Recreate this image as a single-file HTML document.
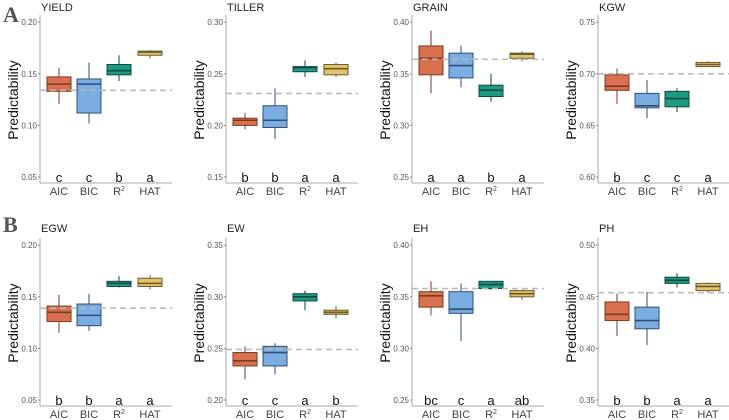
<!DOCTYPE html>
<html><head><meta charset="utf-8">
<style>
html,body{margin:0;padding:0;background:#fff;}
svg{display:block;font-family:"Liberation Sans",sans-serif;}
</style></head>
<body>
<svg id="c" width="729" height="420" viewBox="0 0 729 420"></svg>
<script>
const categories = ["AIC","BIC","R2","HAT"];
const traits = ["YIELD","TILLER","GRAIN","KGW","EGW","EW","EH","PH"];
const tickMins = [0.05,0.15,0.25,0.60,0.05,0.20,0.25,0.35];
const baselines = [0.134,0.231,0.364,0.700,0.139,0.249,0.358,0.454];
const letters = [["c","c","b","a"],["b","b","a","a"],["a","a","b","a"],["b","c","c","a"],
                 ["b","b","a","a"],["c","c","a","b"],["bc","c","a","ab"],["b","b","a","a"]];
// each box: [min, q1, median, q3, max]
const yieldBoxes  = [[0.121,0.133,0.140,0.147,0.156],[0.102,0.112,0.140,0.145,0.161],[0.143,0.149,0.153,0.159,0.168],[0.165,0.168,0.171,0.172,0.173]];
const tillerBoxes = [[0.196,0.200,0.205,0.207,0.212],[0.187,0.198,0.205,0.219,0.236],[0.247,0.252,0.256,0.257,0.263],[0.247,0.249,0.255,0.259,0.261]];
const grainBoxes  = [[0.331,0.349,0.365,0.377,0.392],[0.337,0.346,0.358,0.370,0.377],[0.323,0.328,0.334,0.339,0.350],[0.362,0.365,0.369,0.370,0.372]];
const kgwBoxes    = [[0.671,0.684,0.688,0.699,0.705],[0.657,0.667,0.669,0.681,0.694],[0.663,0.668,0.676,0.683,0.686],[0.707,0.707,0.709,0.711,0.712]];
const egwBoxes    = [[0.115,0.126,0.135,0.141,0.152],[0.117,0.122,0.132,0.143,0.153],[0.159,0.160,0.163,0.165,0.170],[0.157,0.160,0.163,0.168,0.171]];
const ewBoxes     = [[0.220,0.233,0.238,0.246,0.252],[0.225,0.233,0.246,0.252,0.255],[0.287,0.296,0.300,0.303,0.306],[0.279,0.283,0.285,0.287,0.291]];
const ehBoxes     = [[0.332,0.340,0.351,0.355,0.365],[0.307,0.334,0.338,0.355,0.363],[0.357,0.358,0.362,0.365,0.365],[0.347,0.350,0.353,0.356,0.357]];
const phBoxes     = [[0.412,0.427,0.433,0.445,0.453],[0.403,0.419,0.427,0.440,0.455],[0.459,0.463,0.466,0.469,0.473],[0.454,0.456,0.460,0.463,0.464]];
const allBoxes = [yieldBoxes,tillerBoxes,grainBoxes,kgwBoxes,egwBoxes,ewBoxes,ehBoxes,phBoxes];

const fills = ["#D9714E","#7AADE2","#1E9A84","#E3C46C"];
const strokes = ["#7a3a24","#2f4e72","#0d4a3f","#6b5a2a"];
const svg = document.getElementById('c');
const NS = "http://www.w3.org/2000/svg";
function mk(tag, attrs, parent){const e=document.createElementNS(NS,tag);for(const k in attrs)e.setAttribute(k,attrs[k]);(parent||svg).appendChild(e);return e;}

const axisX = [40,226,412,598];
const catOff = [19,49,79,110];
const rowBase = [177,400];
const rowTop = [15,238];
const pxPer = 51.6/0.05;

let L = mk('text',{x:3,y:22,'font-family':'Liberation Serif, serif','font-weight':'bold','font-size':22,fill:'#555'}); L.textContent='A';
 
L = mk('text',{x:3,y:232,'font-family':'Liberation Serif, serif','font-weight':'bold','font-size':22,fill:'#555'}); L.textContent='B';
 

traits.forEach((t,p)=>{
  const row = Math.floor(p/4), col = p%4;
  const ax = axisX[col], base = rowBase[row], tmin = tickMins[p];
  const yS = v => base - (v - tmin)*pxPer;
  const xS = i => ax + catOff[i];
  const g = mk('g',{});
  
  
  const title = mk('text',{x:ax+1,y:row?232:11,'font-size':11,fill:'#222'},g); title.textContent=t;
   
  mk('line',{x1:ax,y1:rowTop[row],x2:ax,y2:base+6,stroke:'#aaa','stroke-width':1},g);
  mk('line',{x1:ax,y1:base+6,x2:ax+132,y2:base+6,stroke:'#aaa','stroke-width':1},g);
  for(let k=0;k<4;k++){
    const v = tmin + k*0.05, y = yS(v);
    mk('line',{x1:ax-2,y1:y,x2:ax,y2:y,stroke:'#888'},g);
    const tl = mk('text',{x:ax-3,y:y+3,'font-size':8,fill:'#555','text-anchor':'end'},g);
    tl.textContent = v.toFixed(2);
     
  }
  const yl = mk('text',{x:0,y:0,'font-size':14,fill:'#111','text-anchor':'middle',transform:`translate(${ax-22},${(rowTop[row]+base)/2+4}) rotate(-90)`},g);
  yl.textContent='Predictability';
   
  allBoxes[p].forEach((b,i)=>{
    const cx = xS(i), w = 24;
    const bg = mk('g',{},g);
    
    
    mk('line',{x1:cx,y1:yS(b[0]),x2:cx,y2:yS(b[4]),stroke:strokes[i],'stroke-width':1},bg);
    mk('rect',{x:cx-w/2,y:yS(b[3]),width:w,height:Math.max(1,yS(b[1])-yS(b[3])),fill:fills[i],stroke:strokes[i],'stroke-width':1},bg);
    mk('line',{x1:cx-w/2,y1:yS(b[2]),x2:cx+w/2,y2:yS(b[2]),stroke:strokes[i],'stroke-width':1.6},bg);
    const lt = mk('text',{x:cx,y:base+5,'font-size':13,fill:'#111','text-anchor':'middle'},g);
    lt.textContent = letters[p][i];
     
    const cl = mk('text',{x:cx,y:base+18,'font-size':11,fill:'#444','text-anchor':'middle'},g);
    if(categories[i]==="R2"){cl.textContent='R'; const s=mk('tspan',{'font-size':7,dy:-4},cl); s.textContent='2';}
    else cl.textContent = categories[i];
     
  });
  const dl = mk('line',{x1:ax,y1:yS(baselines[p]),x2:ax+132,y2:yS(baselines[p]),stroke:'#bbb','stroke-width':1.6,'stroke-dasharray':'6,4'},g);
   
});
</script>
</body></html>
